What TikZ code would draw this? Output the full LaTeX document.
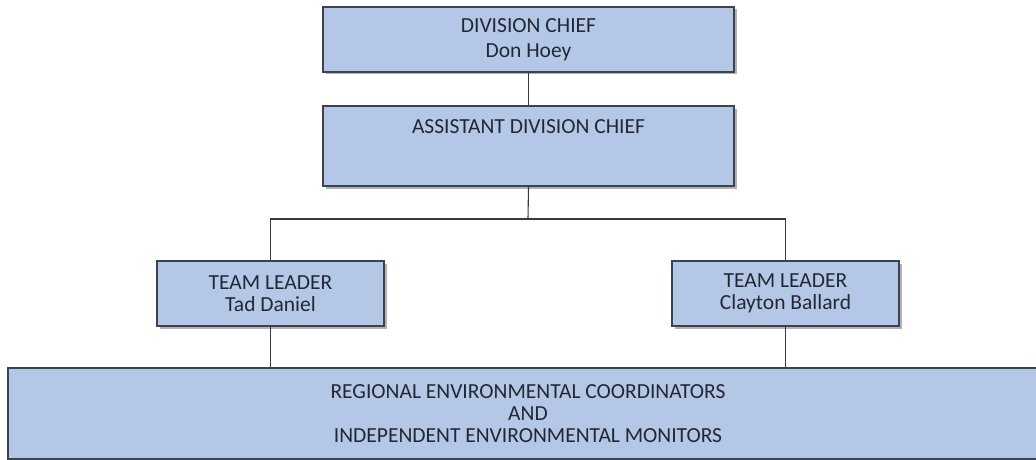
\documentclass[tikz,border=0pt]{standalone}
\usepackage{fontspec}
\setmainfont{Carlito}
\usetikzlibrary{shadows}
\definecolor{boxfill}{HTML}{B4C7E7}
\definecolor{boxline}{HTML}{3B4350}
\definecolor{txt}{HTML}{222833}
\definecolor{conn}{HTML}{3A3A3A}
\tikzset{
  orgbox/.style={draw=boxline, line width=1.2pt, fill=boxfill, rectangle, inner sep=0pt,
    text=txt, align=center,
    drop shadow={shadow xshift=2.5pt, shadow yshift=-2.5pt, opacity=0.3, fill=black}},
  boxtext/.style={text=txt, align=center, inner sep=0pt},
  conn/.style={draw=conn, line width=1.1pt},
}
\begin{document}
\begin{tikzpicture}[x=1pt,y=-1pt]
\useasboundingbox (0,0) rectangle (1036,460);
% boxes
\node[orgbox, minimum width=411pt, minimum height=65pt, font=\fontsize{21.5}{25}\selectfont] (chief) at (528.5,39.5) {DIVISION CHIEF\\Don Hoey};
\node[orgbox, minimum width=411pt, minimum height=80pt] (asst) at (528.5,146) {};
\node[boxtext, anchor=base, font=\fontsize{21.5}{25}\selectfont] (assttext) at (528.5,133) {ASSISTANT DIVISION CHIEF};
\node[orgbox, minimum width=227pt, minimum height=65pt, font=\fontsize{21.5}{21.5}\selectfont] (tl1) at (270.5,293.5) {TEAM LEADER\\Tad Daniel};
\node[orgbox, minimum width=227pt, minimum height=65pt, font=\fontsize{21.5}{21.5}\selectfont] (tl2) at (785.5,293.5) {TEAM LEADER\\Clayton Ballard};
\node[orgbox, minimum width=1040pt, minimum height=91pt, font=\fontsize{21.5}{22}\selectfont] (rec) at (528,413.5) {REGIONAL ENVIRONMENTAL COORDINATORS\\AND\\INDEPENDENT ENVIRONMENTAL MONITORS};
% connectors
\coordinate (split) at (528,219);
\draw[conn] (chief.south) -- (asst.north);
\draw[conn] (asst.south) -- (split);
\draw[conn] (split) -| (tl1.north);
\draw[conn] (split) -| (tl2.north);
\draw[conn] (tl1.south) -- (tl1.south |- rec.north);
\draw[conn] (tl2.south) -- (tl2.south |- rec.north);
\end{tikzpicture}
\end{document}
